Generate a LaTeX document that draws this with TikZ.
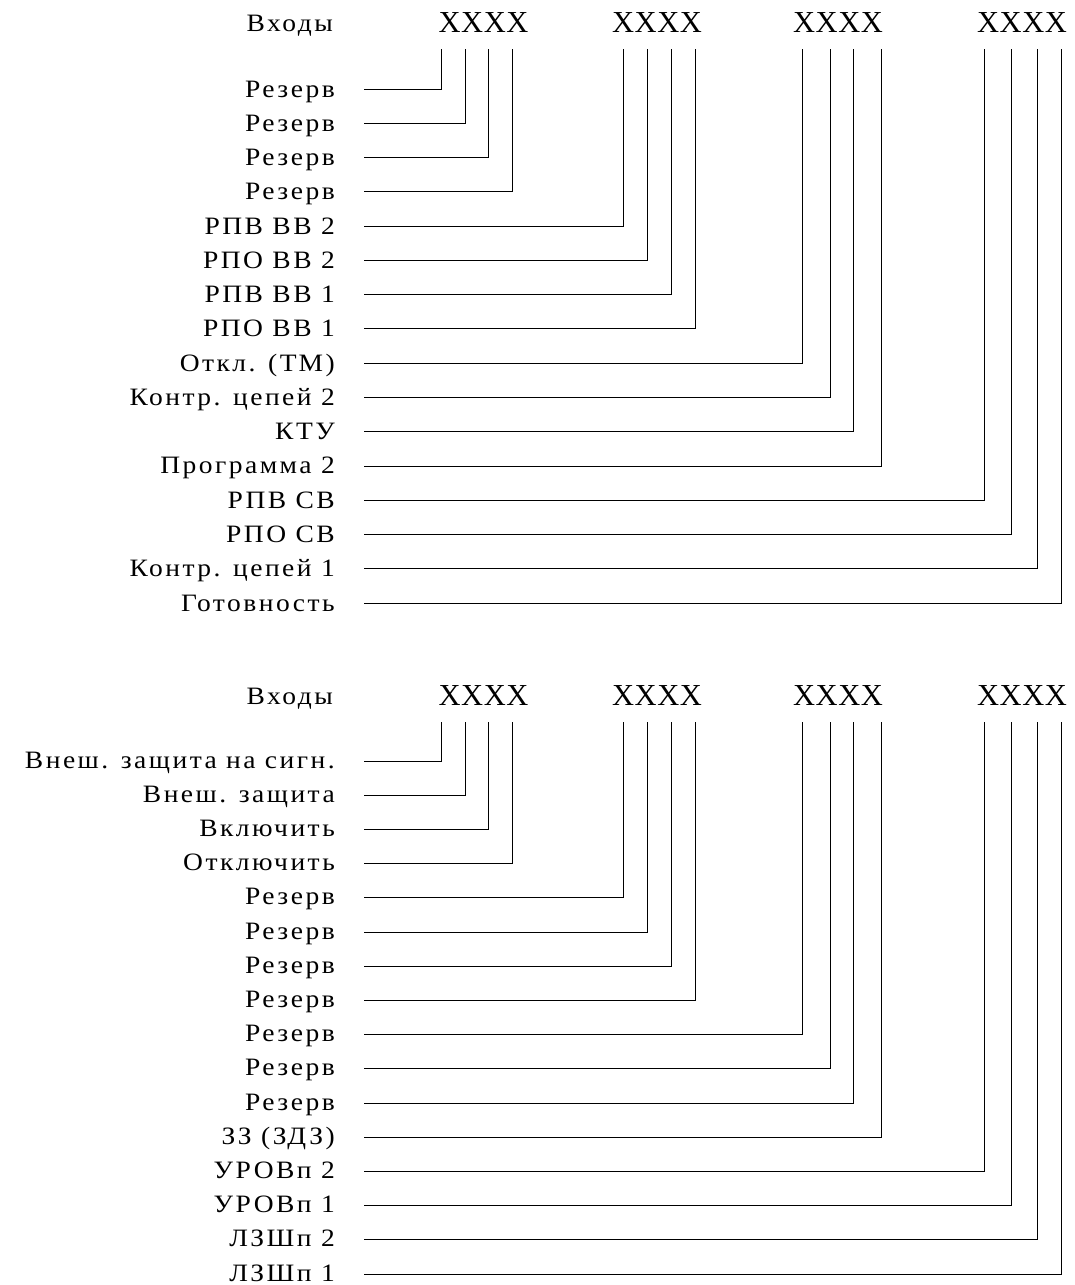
\documentclass[tikz,border=0pt]{standalone}
\usepackage{fontspec}
\setmainfont{Liberation Serif}[LetterSpace=10,FakeStretch=1.1]
\newfontfamily\pinfont{Liberation Serif}[LetterSpace=2]
\begin{document}
\begin{tikzpicture}[x=1pt,y=-1pt,
    lbl/.style={anchor=base east,inner sep=0pt,font=\fontsize{25}{25}\selectfont},
    grp/.style={anchor=base,inner sep=0pt,font=\pinfont\fontsize{30.5}{30.5}\selectfont},
    wire/.style={line width=0.9pt}]
    \useasboundingbox (0,0) rectangle (1075,1285);
    % upper table
    \node[lbl] (ina) at (333,31) {Входы};
    \foreach \cx [count=\g] in {483.5,657,838,1022}
        \node[grp] (xa\g) at (\cx,32) {XXXX};
    \foreach \px/\txt [count=\i] in {441/Резерв,465/Резерв,488/Резерв,512/Резерв,
        623/РПВ ВВ 2,647/РПО ВВ 2,671/РПВ ВВ 1,695/РПО ВВ 1,
        802/Откл. (ТМ),830/Контр. цепей 2,853/КТУ,881/Программа 2,
        984/РПВ СВ,1011/РПО СВ,1037/Контр. цепей 1,1061/Готовность} {
        \pgfmathsetmacro\ry{89+34.27*(\i-1)}
        \coordinate (pa\i) at (\px,49);
        \coordinate (sa\i) at (364,\ry);
        \node[lbl] (la\i) at (335,\ry+8) {\txt};
        \draw[wire] (sa\i) -| (pa\i);
    }
    % lower table
    \node[lbl] (inb) at (333,704) {Входы};
    \foreach \cx [count=\g] in {483.5,657,838,1022}
        \node[grp] (xb\g) at (\cx,705) {XXXX};
    \foreach \px/\txt [count=\i] in {441/Внеш. защита на сигн.,465/Внеш. защита,488/Включить,512/Отключить,
        623/Резерв,647/Резерв,671/Резерв,695/Резерв,
        802/Резерв,830/Резерв,853/Резерв,881/ЗЗ (ЗДЗ),
        984/УРОВп 2,1011/УРОВп 1,1037/ЛЗШп 2,1061/ЛЗШп 1} {
        \pgfmathsetmacro\ry{761+34.2*(\i-1)}
        \coordinate (pb\i) at (\px,722);
        \coordinate (sb\i) at (364,\ry);
        \node[lbl] (lb\i) at (335,\ry+7) {\txt};
        \draw[wire] (sb\i) -| (pb\i);
    }
\end{tikzpicture}
\end{document}
